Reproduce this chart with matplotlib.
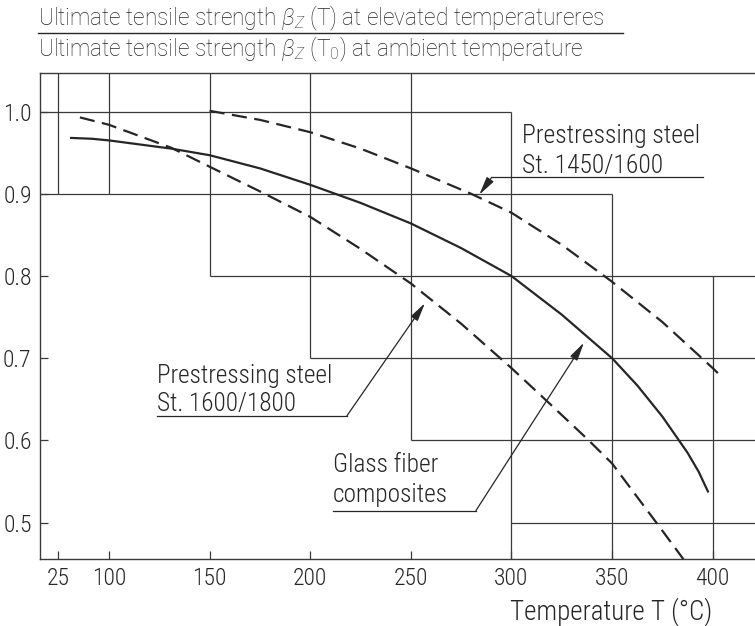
import numpy as np
import matplotlib
matplotlib.use("Agg")
import matplotlib.pyplot as plt
from matplotlib.lines import Line2D
import matplotlib.font_manager as fm

names = {f.name for f in fm.fontManager.ttflist}
cond = [f for f in ['Roboto Condensed', 'Liberation Sans Narrow', 'Roboto'] if f in names] + ['DejaVu Sans']
wide = [f for f in ['Roboto'] if f in names] + ['DejaVu Sans']
plt.rcParams['font.family'] = cond
plt.rcParams['font.weight'] = 'light'
plt.rcParams['mathtext.fontset'] = 'custom'
plt.rcParams['mathtext.rm'] = wide[0]
plt.rcParams['mathtext.it'] = wide[0] + ':italic'

# ---------------- data ----------------
x_ticks = [25, 100, 150, 200, 250, 300, 350, 400]
x_ticklabels = ["25", "100", "150", "200", "250", "300", "350", "400"]
y_ticks = [0.5, 0.6, 0.7, 0.8, 0.9, 1.0]
y_ticklabels = ["0.5", "0.6", "0.7", "0.8", "0.9", "1.0"]

# Glass fiber composites (solid)
gf_T = [44, 75, 100, 131, 150, 175, 200, 225, 250, 275, 300, 325, 350, 362.5, 375, 387.5, 393, 397.6]
gf_v = [0.968, 0.967, 0.965, 0.955, 0.947, 0.931, 0.911, 0.889, 0.864, 0.834, 0.800, 0.753, 0.700, 0.667, 0.629, 0.585, 0.562, 0.538]

# Prestressing steel St. 1450/1600 (dashed, upper)
s1450_T = [150, 175, 200, 225, 250, 280, 300, 325, 350, 375, 400, 405]
s1450_v = [1.001, 0.990, 0.975, 0.955, 0.931, 0.900, 0.877, 0.838, 0.793, 0.744, 0.688, 0.676]

# Prestressing steel St. 1600/1800 (dashed, lower)
s1600_T = [57, 100, 131, 150, 175, 200, 225, 250, 275, 300, 318, 338, 350, 372, 385, 388]
s1600_v = [0.993, 0.984, 0.956, 0.933, 0.903, 0.872, 0.833, 0.791, 0.742, 0.688, 0.647, 0.601, 0.572, 0.500, 0.457, 0.445]

# Staircase grid: vertical (T, from, to) and horizontal (value, from T, to T); None = axes edge
grid_vertical = [(25, 0.9, None), (100, 0.9, None), (150, 0.8, None), (200, 0.7, None),
                 (250, 0.6, None), (300, None, 1.0), (350, None, 0.9), (400, None, 0.8)]
grid_horizontal = [(1.0, None, 300), (0.9, None, 350), (0.8, 150, None), (0.7, 200, None),
                   (0.6, 250, None), (0.5, 300, None)]

title_top = r"Ultimate tensile strength $\beta_{Z}$ (T) at elevated temperatureres"
title_bottom = r"Ultimate tensile strength $\beta_{Z}$ (T$_0$) at ambient temperature"
x_label = "Temperature T (°C)"

# ---------------- figure ----------------
W, H = 755, 626
fig = plt.figure(figsize=(W / 100, H / 100), dpi=100)
fig.patch.set_facecolor('white')
renderer = fig.canvas.get_renderer()

ink = '#262626'
gridc = '#3a3a3a'

def fx(px):
    return px / W

def fy(py):
    return 1 - py / H

def fit_text(x, y, s, width, size, ha='left', va='baseline', family=None):
    kw = {} if family is None else {'family': family}
    t = fig.text(fx(x), fy(y), s, ha=ha, va=va, fontsize=size, color=ink, **kw)
    w = t.get_window_extent(renderer).width
    if w > 0:
        t.set_fontsize(size * width / w)
    return t

ax = fig.add_axes([fx(40), fy(559), 1 - fx(40), (559 - 73) / H])

K = 0.336
def fwd(t):
    t = np.asarray(t, dtype=float)
    return np.where(t < 100, 100 - (100 - t) * K, t)

def inv(u):
    u = np.asarray(u, dtype=float)
    return np.where(u < 100, 100 - (100 - u) / K, u)

ax.set_xscale('function', functions=(fwd, inv))
XMIN, XMAX = -2.0, 421.0
YMIN, YMAX = 0.4558, 1.047
ax.set_xlim(XMIN, XMAX)
ax.set_ylim(YMIN, YMAX)

for T, y0, y1 in grid_vertical:
    ax.plot([T, T], [YMIN if y0 is None else y0, YMAX if y1 is None else y1],
            color=gridc, lw=0.9, solid_capstyle='butt', zorder=1)
for v, t0, t1 in grid_horizontal:
    ax.plot([XMIN if t0 is None else t0, XMAX if t1 is None else t1], [v, v],
            color=gridc, lw=0.9, solid_capstyle='butt', zorder=1)

ax.plot(gf_T, gf_v, color=ink, lw=1.6, zorder=3)
ax.plot(s1450_T, s1450_v, color=ink, lw=1.6, dashes=(6.8, 3.4), zorder=3)
ax.plot(s1600_T, s1600_v, color=ink, lw=1.6, dashes=(6.8, 3.4), zorder=3)

for s in ['left', 'bottom', 'top']:
    ax.spines[s].set_color(gridc)
    ax.spines[s].set_linewidth(1.0)
ax.spines['right'].set_visible(False)

ax.set_xticks(x_ticks)
ax.set_xticklabels(x_ticklabels)
ax.set_yticks(y_ticks)
ax.set_yticklabels(y_ticklabels)
ax.xaxis.set_minor_locator(matplotlib.ticker.NullLocator())
ax.tick_params(axis='both', direction='in', length=6, width=0.9, color=gridc,
               labelsize=17, labelcolor=ink)
ax.tick_params(axis='y', pad=6)
ax.tick_params(axis='x', pad=6)
ax.tick_params(top=False, right=False)

# axis label
fit_text(611, 612, x_label, 202, 15, ha='center', va='center')

# title as fraction
t1 = fit_text(38, 25.5, title_top, 584, 15, family=wide)
fs_title = t1.get_fontsize() * 0.97
t1.set_fontsize(fs_title)
fig.text(fx(38), fy(56), title_bottom, ha='left', va='baseline', color=ink,
         fontsize=fs_title, family=wide)
fig.add_artist(Line2D([fx(38), fx(623)], [fy(33.3), fy(33.3)], color=ink, lw=1.0))

# annotations
arrow = dict(arrowstyle='-|>,head_length=0.8,head_width=0.18', mutation_scale=14,
             color=ink, lw=0.9, shrinkA=0, shrinkB=0)

def label(lines, x, baselines, width, underline, elbow, tip):
    t = fit_text(x, baselines[0], lines[0], width, 16)
    fs = t.get_fontsize()
    fig.text(fx(x), fy(baselines[1]), lines[1], ha='left', va='baseline', fontsize=fs, color=ink)
    fig.add_artist(Line2D([fx(underline[0]), fx(underline[1])], [fy(underline[2]), fy(underline[2])],
                          color=ink, lw=0.9))
    ax.annotate("", xy=tip, xycoords='data',
                xytext=(fx(elbow[0]), fy(elbow[1])), textcoords='figure fraction',
                arrowprops=arrow)

label(["Prestressing steel", "St. 1450/1600"], 522, [143, 173], 178,
      (491.7, 703, 177.3), (491.7, 177.3), (284, 0.899))
label(["Prestressing steel", "St. 1600/1800"], 157, [382.7, 410.7], 175,
      (157, 347, 415.7), (347, 415.7), (257, 0.767))
label(["Glass fiber", "composites"], 333, [471.5, 501.7], 105,
      (333, 476, 510.5), (476, 510.5), (336, 0.719))

fig.savefig("out.png", dpi=100, facecolor='white')
